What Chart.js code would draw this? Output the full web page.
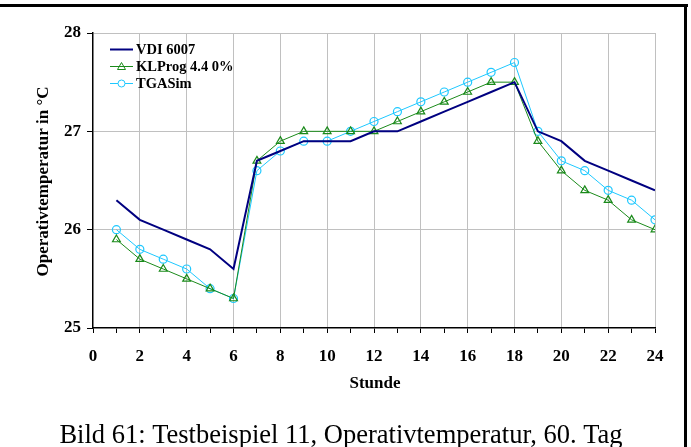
<!DOCTYPE html>
<html>
<head>
<meta charset="utf-8">
<script src="https://cdn.jsdelivr.net/npm/chart.js@4.4.0/dist/chart.umd.min.js"></script>
<style>
  html,body{margin:0;padding:0;background:#fff;}
  #wrap{position:relative;width:691px;height:447px;}
</style>
</head>
<body>
<div id="wrap"><canvas id="tempChart" width="691" height="447"></canvas></div>
<script>
const hours=[1,2,3,4,5,6,7,8,9,10,11,12,13,14,15,16,17,18,19,20,21,22,23,24];
const vdi6007=[26.3,26.1,26.0,25.9,25.8,25.6,26.7,26.8,26.9,26.9,26.9,27.0,27.0,27.1,27.2,27.3,27.4,27.5,27.0,26.9,26.7,26.6,26.5,26.4];
const klprog=[25.9,25.7,25.6,25.5,25.4,25.3,26.7,26.9,27.0,27.0,27.0,27.0,27.1,27.2,27.3,27.4,27.5,27.5,26.9,26.6,26.4,26.3,26.1,26.0];
const tgasim=[26.0,25.8,25.7,25.6,25.4,25.3,26.6,26.8,26.9,26.9,27.0,27.1,27.2,27.3,27.4,27.5,27.6,27.7,27.0,26.7,26.6,26.4,26.3,26.1];
const xTicks=[0,2,4,6,8,10,12,14,16,18,20,22,24];
const yTicks=[25,26,27,28];
const seriesNames=['VDI 6007','KLProg 4.4 0%','TGASim'];
const xTitle='Stunde';
const yTitle='Operativtemperatur in °C';
const caption='Bild 61: Testbeispiel 11, Operativtemperatur, 60. Tag';

const serif='"Liberation Serif","DejaVu Serif",serif';
const pts=vals=>hours.map((h,i)=>({x:h,y:vals[i]}));

// frame, axis titles, caption and in-plot legend
const decor={
  id:'decor',
  afterDraw(chart){
    const c=chart.ctx, a=chart.chartArea;
    c.save();
    c.fillStyle='#000';
    c.fillRect(0,4,688,3);
    c.fillRect(684,4,3,443);

    c.font='bold 17px '+serif;
    c.textAlign='center'; c.textBaseline='middle';
    c.fillText(xTitle,(a.left+a.right)/2+1,384);
    c.save();
    c.translate(44,(a.top+a.bottom)/2+1);
    c.rotate(-Math.PI/2);
    c.fillText(yTitle,0,0);
    c.restore();

    c.font='26.5px '+serif;
    c.textBaseline='alphabetic';
    c.fillText(caption,341,443);

    // legend
    c.font='bold 14.5px '+serif;
    c.textAlign='left'; c.textBaseline='middle';
    chart.data.datasets.forEach((ds,i)=>{
      const y=a.top+16.5+i*17, x0=a.left+17, x1=x0+23;
      c.strokeStyle=ds.borderColor; c.lineWidth=ds.borderWidth;
      c.beginPath(); c.moveTo(x0,y); c.lineTo(x1,y); c.stroke();
      const mx=(x0+x1)/2;
      c.lineWidth=1;
      if(ds.pointStyle==='triangle'){
        c.beginPath(); c.moveTo(mx,y-4); c.lineTo(mx+4,y+3); c.lineTo(mx-4,y+3); c.closePath(); c.stroke();
      } else if(ds.pointStyle==='circle' && ds.pointRadius>0){
        c.fillStyle='#fff'; c.beginPath(); c.arc(mx,y,3.5,0,Math.PI*2); c.fill(); c.stroke();
      }
      c.fillStyle='#000';
      c.fillText(ds.label,x1+3,y+1);
    });
    c.restore();
  }
};

new Chart(document.getElementById('tempChart'),{
  type:'line',
  data:{datasets:[
    {label:seriesNames[0],data:pts(vdi6007),borderColor:'#000080',borderWidth:2,pointRadius:0,pointStyle:'circle'},
    {label:seriesNames[1],data:pts(klprog),borderColor:'#1a8a1a',borderWidth:1,pointStyle:'triangle',pointRadius:4.5,pointBorderColor:'#1a8a1a',pointBackgroundColor:'rgba(255,255,255,0)',pointBorderWidth:1.2},
    {label:seriesNames[2],data:pts(tgasim),borderColor:'#1ec8ff',borderWidth:1,pointStyle:'circle',pointRadius:4,pointBorderColor:'#1ec8ff',pointBackgroundColor:'rgba(255,255,255,0)',pointBorderWidth:1.2}
  ]},
  options:{
    responsive:false,animation:false,
    layout:{padding:{left:0,top:33,right:36,bottom:0}},
    plugins:{legend:{display:false},tooltip:{enabled:false}},
    elements:{line:{tension:0}},
    scales:{
      x:{type:'linear',min:0,max:24,
        afterBuildTicks:s=>{s.ticks=[0].concat(hours).map(v=>({value:v}));},
        afterFit:s=>{s.height=119;},
        ticks:{autoSkip:false,maxRotation:0,padding:13,color:'#000',font:{family:serif,size:17,weight:'bold'},
          callback:v=>xTicks.includes(v)?String(v):''},
        grid:{color:ctx=>(ctx.tick&&xTicks.includes(ctx.tick.value)&&ctx.tick.value>0)?'#c0c0c0':'rgba(0,0,0,0)',
          lineWidth:1,tickColor:'#000',tickLength:5,drawOnChartArea:true},
        border:{color:'#000',width:1.5}
      },
      y:{min:25,max:28,
        afterBuildTicks:s=>{s.ticks=yTicks.map(v=>({value:v}));},
        afterFit:s=>{s.width=93;},
        ticks:{padding:6,color:'#000',font:{family:serif,size:17,weight:'bold'}},
        grid:{color:ctx=>(ctx.tick&&ctx.tick.value>25)?'#c0c0c0':'rgba(0,0,0,0)',lineWidth:1,tickColor:'#000',tickLength:6},
        border:{color:'#000',width:1.5}
      }
    }
  },
  plugins:[decor]
});
</script>
</body>
</html>
